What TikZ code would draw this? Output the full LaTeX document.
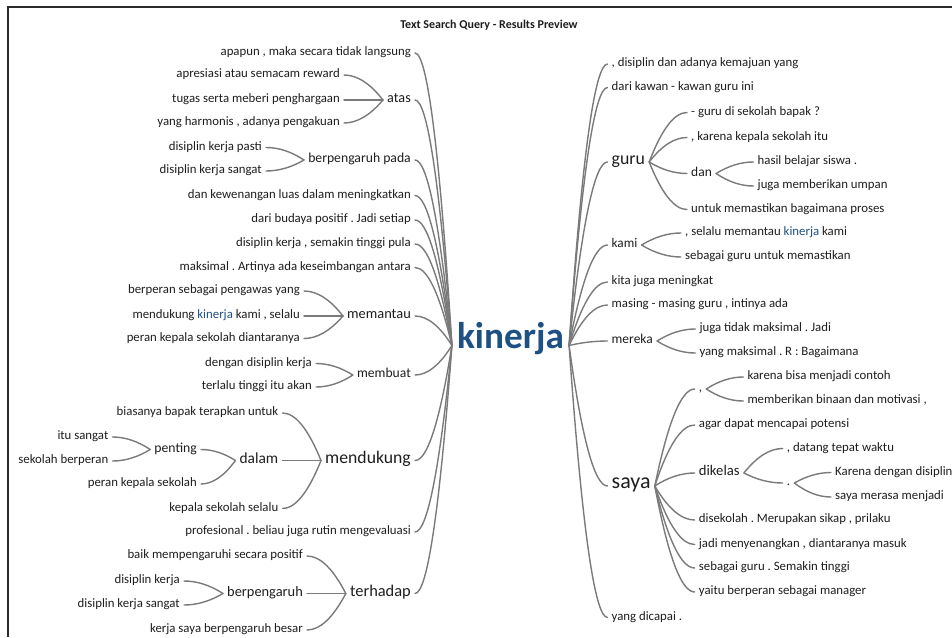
\documentclass[tikz,border=0pt]{standalone}
\usepackage{fontspec}
\setmainfont{Carlito}
\usetikzlibrary{calc}
\frenchspacing
\definecolor{ink}{HTML}{1E1E1E}
\definecolor{twigcol}{HTML}{7A7A7A}
\definecolor{kblue}{HTML}{1D5083}
\definecolor{framecol}{HTML}{2B2B2B}
\tikzset{
  x=1pt, y=-1pt,
  w/.style={font=\fontsize{#1}{#1}\selectfont, text=ink, inner xsep=4pt, inner ysep=0pt,
            text height=.75em, text depth=.25em},
  w/.default=12.8,
  lw/.style={w=#1, anchor=east}, lw/.default=12.8,
  rw/.style={w=#1, anchor=west}, rw/.default=12.8,
  twig/.style={draw=twigcol, line width=1.4pt, line cap=round},
}
% branch from a child word (#1) to its parent word (#2): leaves the child
% horizontally and meets the parent at an angle (a quadratic curve)
\newcommand\twg[2]{\draw[twig] let \p1=(#1), \p2=(#2) in
  (\p1) .. controls ({\x1+(\x2-\x1)/3},\y1) and ({\x2-(\x2-\x1)/3},{\y2+2*(\y1-\y2)/3}) .. (\p2);}
\begin{document}
\begin{tikzpicture}
\useasboundingbox (0,0) rectangle (952,637);
\fill[white] (0,0) rectangle (952,637);
\draw[framecol, line width=1.5pt] (8,637) -- (8,7) -- (952,7);

\node[font=\bfseries\fontsize{12}{12}\selectfont, text=ink] (title) at (489,25) {Text Search Query - Results Preview};

% root word
\node[w=37.2, font=\bfseries\fontsize{37.2}{37.2}\selectfont, text=kblue, inner xsep=5pt] (k) at (510.5,345.5) {kinerja};

% ---------- left tree ----------
\node[lw] (L1) at (415,53) {apapun , maka secara tidak langsung};
\node[lw=14.2] (atas) at (415,100) {atas};
\node[lw] (atas1) at (344,75) {apresiasi atau semacam reward};
\node[lw] (atas2) at (344,100) {tugas serta meberi penghargaan};
\node[lw] (atas3) at (344,123) {yang harmonis , adanya pengakuan};
\node[lw=13.7] (bpp) at (415,160) {berpengaruh pada};
\node[lw] (bpp1) at (266,147.5) {disiplin kerja pasti};
\node[lw] (bpp2) at (266,171) {disiplin kerja sangat};
\node[lw] (L4) at (415,195.5) {dan kewenangan luas dalam meningkatkan};
\node[lw] (L5) at (415,220) {dari budaya positif . Jadi setiap};
\node[lw] (L6) at (415,244) {disiplin kerja , semakin tinggi pula};
\node[lw] (L7) at (415,267.5) {maksimal . Artinya ada keseimbangan antara};
\node[lw=14.4] (mmt) at (415,316) {memantau};
\node[lw] (mmt1) at (304,291) {berperan sebagai pengawas yang};
\node[lw] (mmt2) at (304,316) {mendukung \textcolor{kblue}{kinerja} kami , selalu};
\node[lw] (mmt3) at (304,338.5) {peran kepala sekolah diantaranya};
\node[lw=13.6] (mbt) at (415,375) {membuat};
\node[lw] (mbt1) at (316,363.5) {dengan disiplin kerja};
\node[lw] (mbt2) at (316,387) {terlalu tinggi itu akan};
\node[lw=17.7] (mdk) at (415,460.5) {mendukung};
\node[lw] (mdk1) at (282.5,413) {biasanya bapak terapkan untuk};
\node[lw=15.4] (dlm) at (282.5,460.5) {dalam};
\node[lw] (mdk3) at (282.5,508.5) {kepala sekolah selalu};
\node[lw=13.7] (pnt) at (201,449.5) {penting};
\node[lw] (dlm2) at (201,484) {peran kepala sekolah};
\node[lw] (pnt1) at (112.5,437) {itu sangat};
\node[lw] (pnt2) at (112.5,461) {sekolah berperan};
\node[lw] (L11) at (415,532) {profesional . beliau juga rutin mengevaluasi};
\node[lw=16.4] (thd) at (415,593.5) {terhadap};
\node[lw] (thd1) at (307,556) {baik mempengaruhi secara positif};
\node[lw=14.4] (bph) at (307,593.5) {berpengaruh};
\node[lw] (thd3) at (307,630) {kerja saya berpengaruh besar};
\node[lw] (bph1) at (184,581) {disiplin kerja};
\node[lw] (bph2) at (184,605) {disiplin kerja sangat};

% ---------- right tree ----------
\node[rw] (R1) at (607.5,64) {, disiplin dan adanya kemajuan yang};
\node[rw] (R2) at (607.5,87.5) {dari kawan - kawan guru ini};
\node[rw=17.8] (guru) at (607.5,162) {guru};
\node[rw] (guru1) at (687,112.5) {- guru di sekolah bapak ?};
\node[rw] (guru2) at (687,137.5) {, karena kepala sekolah itu};
\node[rw=13.5] (dan) at (687,173.5) {dan};
\node[rw] (guru4) at (687,209.5) {untuk memastikan bagaimana proses};
\node[rw] (dan1) at (753.5,162) {hasil belajar siswa .};
\node[rw] (dan2) at (753.5,186) {juga memberikan umpan};
\node[rw=13.2] (kami) at (607.5,245) {kami};
\node[rw] (kami1) at (681,233) {, selalu memantau \textcolor{kblue}{kinerja} kami};
\node[rw] (kami2) at (681,257) {sebagai guru untuk memastikan};
\node[rw] (R5) at (607.5,282) {kita juga meningkat};
\node[rw] (R6) at (607.5,305) {masing - masing guru , intinya ada};
\node[rw=13.5] (mrk) at (607.5,341) {mereka};
\node[rw] (mrk1) at (695.3,329) {juga tidak maksimal . Jadi};
\node[rw] (mrk2) at (695.3,353) {yang maksimal . R : Bagaimana};
\node[rw=22] (saya) at (607.5,486) {saya};
\node[rw] (koma) at (694.7,389) {,};
\node[rw] (koma1) at (743.3,377) {karena bisa menjadi contoh};
\node[rw] (koma2) at (743.3,401) {memberikan binaan dan motivasi ,};
\node[rw] (saya2) at (694.7,425) {agar dapat mencapai potensi};
\node[rw=14.7] (dkl) at (694.7,473) {dikelas};
\node[rw] (dkl1) at (782.7,448.5) {, datang tepat waktu};
\node[rw] (titik) at (782.7,483) {.};
\node[rw] (titik1) at (831,472.5) {Karena dengan disiplin};
\node[rw] (titik2) at (831,497) {saya merasa menjadi};
\node[rw] (saya4) at (694.7,520) {disekolah . Merupakan sikap , prilaku};
\node[rw] (saya5) at (694.7,544.5) {jadi menyenangkan , diantaranya masuk};
\node[rw] (saya6) at (694.7,568) {sebagai guru . Semakin tinggi};
\node[rw] (saya7) at (694.7,592) {yaitu berperan sebagai manager};
\node[rw] (R9) at (607.5,617.5) {yang dicapai .};

% ---------- connectors, left ----------
\foreach \w in {L1,atas,bpp,L4,L5,L6,L7,mmt,mbt,mdk,L11,thd} {\twg{\w.east}{k.west}}
\foreach \w in {atas1,atas2,atas3} {\twg{\w.east}{atas.west}}
\foreach \w in {bpp1,bpp2} {\twg{\w.east}{bpp.west}}
\foreach \w in {mmt1,mmt2,mmt3} {\twg{\w.east}{mmt.west}}
\foreach \w in {mbt1,mbt2} {\twg{\w.east}{mbt.west}}
\foreach \w in {mdk1,dlm,mdk3} {\twg{\w.east}{mdk.west}}
\foreach \w in {pnt,dlm2} {\twg{\w.east}{dlm.west}}
\foreach \w in {pnt1,pnt2} {\twg{\w.east}{pnt.west}}
\foreach \w in {thd1,bph,thd3} {\twg{\w.east}{thd.west}}
\foreach \w in {bph1,bph2} {\twg{\w.east}{bph.west}}

% ---------- connectors, right ----------
\foreach \w in {R1,R2,guru,kami,R5,R6,mrk,saya,R9} {\twg{\w.west}{k.east}}
\foreach \w in {guru1,guru2,dan,guru4} {\twg{\w.west}{guru.east}}
\foreach \w in {dan1,dan2} {\twg{\w.west}{dan.east}}
\foreach \w in {kami1,kami2} {\twg{\w.west}{kami.east}}
\foreach \w in {mrk1,mrk2} {\twg{\w.west}{mrk.east}}
\foreach \w in {koma,saya2,dkl,saya4,saya5,saya6,saya7} {\twg{\w.west}{saya.east}}
\foreach \w in {koma1,koma2} {\twg{\w.west}{koma.east}}
\foreach \w in {dkl1,titik} {\twg{\w.west}{dkl.east}}
\foreach \w in {titik1,titik2} {\twg{\w.west}{titik.east}}
\end{tikzpicture}
\end{document}
